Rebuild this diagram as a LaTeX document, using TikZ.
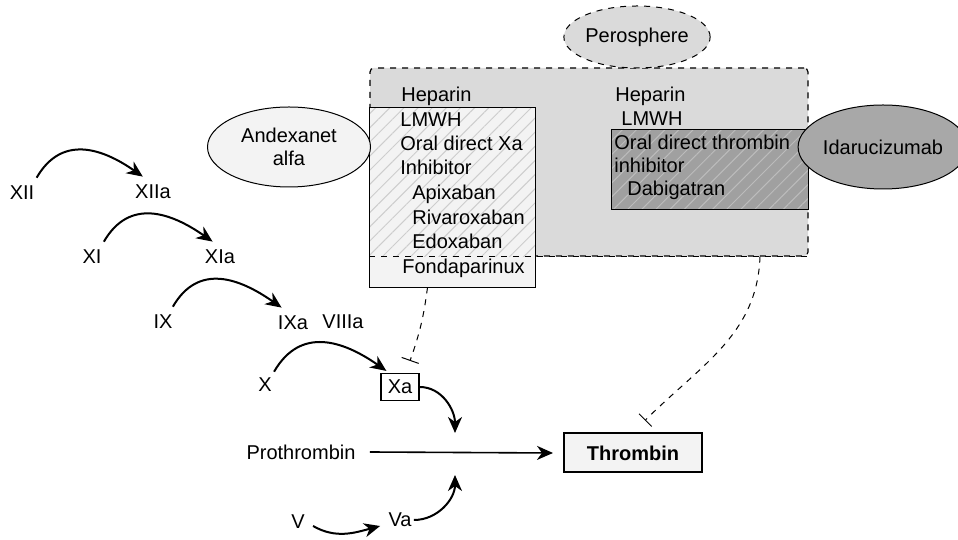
\documentclass[tikz,border=0pt]{standalone}
\usepackage{fontspec}
\setmainfont{Liberation Sans}
\usetikzlibrary{shapes.geometric,arrows.meta,patterns.meta}

\definecolor{boxgrey}{RGB}{218,218,218}
\definecolor{paleGrey}{RGB}{243,243,243}
\definecolor{hatchLight}{RGB}{205,205,205}
\definecolor{darkGrey}{RGB}{160,160,160}
\definecolor{hatchDark}{RGB}{188,188,188}
\definecolor{ellGrey}{RGB}{168,168,168}

\begin{document}
\begin{tikzpicture}[x=0.5pt,y=0.5pt,
  font=\fontsize{10}{11.5}\selectfont,
  lbl/.style={inner sep=1pt},
  txt/.style={anchor=base west,inner sep=0pt},
  act/.style={-{Stealth[length=8pt,width=7pt,inset=2.5pt]},line width=1pt},
  inh/.style={dashed,-{Bar[width=9pt]},line width=0.5pt},
  drug/.style={ellipse,draw,line width=0.5pt,inner sep=0pt}]

\useasboundingbox (0,0) rectangle (958,540);

% grey area and the two drug boxes
\node (grey) [draw,dashed,rounded corners=2pt,fill=boxgrey,line width=0.6pt,
  minimum width=219pt,minimum height=94pt,inner sep=0pt] at (589,378) {};
\node (lbox) [fill=paleGrey,minimum width=82.5pt,minimum height=89.5pt,inner sep=0pt] at (452.5,342.5) {};
\fill[pattern={Lines[angle=45,distance=5pt,line width=0.5pt]},pattern color=hatchLight]
  (lbox.north west) rectangle (lbox.east |- grey.south);
\draw[line width=0.7pt] (lbox.south west) rectangle (lbox.north east);
\draw[dashed,line width=0.6pt] (grey.south west) -- (grey.south east);
\node (rbox) [fill=darkGrey,
  postaction={pattern={Lines[angle=45,distance=5pt,line width=0.5pt]},pattern color=hatchDark},
  minimum width=98pt,minimum height=39.5pt,inner sep=0pt] at (710,370.5) {};
\draw[line width=0.7pt] (rbox.south west) rectangle (rbox.north east);

\node (pero) [drug,dashed,fill=boxgrey,minimum width=62.5pt,minimum height=31pt] at (637,503) {Perosphere};
\node (andex) [drug,fill=paleGrey,minimum width=81.5pt,minimum height=40pt,align=center] at (289,393) {Andexanet\\alfa};
\node (idaru) [drug,fill=ellGrey,minimum width=76pt,minimum height=42pt] at (883,393) {Idarucizumab};

% Xa inhibitors
\node (hepA) [txt] at (401,438) {Heparin};
\node (lmwhA) [txt] at (400,413) {LMWH};
\node (oralXa) [txt] at (400,389) {Oral direct Xa};
\node (inhXa) [txt] at (400,365) {Inhibitor};
\node (apix) [txt] at (412,340) {Apixaban};
\node (rivar) [txt] at (412,315) {Rivaroxaban};
\node (edox) [txt] at (412,291) {Edoxaban};
\node (fonda) [txt] at (402,266) {Fondaparinux};

% thrombin inhibitors
\node (hepB) [txt] at (615,438) {Heparin};
\node (lmwhB) [txt] at (621,414) {LMWH};
\node (oralIIa) [txt] at (614,390) {Oral direct thrombin};
\node (inhIIa) [txt] at (614,367) {inhibitor};
\node (dabi) [txt] at (627,344) {Dabigatran};

% cascade
\node (XII) [lbl] at (22,347) {XII};
\node (XIIa) [lbl] at (153,348) {XIIa};
\node (XI) [lbl] at (92,283) {XI};
\node (XIa) [lbl] at (220,283) {XIa};
\node (IX) [lbl] at (163,218) {IX};
\node (IXa) [lbl] at (293,217) {IXa};
\node (VIIIa) [lbl] at (343,218) {VIIIa};
\node (X) [lbl] at (265,155) {X};
\node (Xa) [draw,line width=0.6pt,inner sep=2pt,minimum width=19pt,minimum height=13.5pt] at (400,153) {Xa};
\node (proth) [lbl] at (301,88) {Prothrombin};
\node (thr) [draw,line width=1pt,fill=paleGrey,minimum width=69pt,minimum height=19.5pt,font=\fontsize{10}{11.5}\selectfont\bfseries] at (633,87) {Thrombin};
\node (V) [lbl] at (298,18) {V};
\node (Va) [lbl] at (400,20) {Va};

\coordinate (joinTop) at (455,107);
\coordinate (joinBot) at (455,65);

\draw [act] ([yshift=3pt]XII.north east) to[out=60,in=145,looseness=1.2] ([xshift=5pt,yshift=3pt]XIIa.north west);
\draw [act] ([yshift=3pt]XI.north east) to[out=60,in=145,looseness=1.2] ([xshift=5pt,yshift=3pt]XIa.north west);
\draw [act] ([xshift=-1pt,yshift=3pt]IX.north east) to[out=60,in=145,looseness=1.2] ([xshift=3pt,yshift=3pt]IXa.north west);
\draw [act] ([yshift=2pt]X.north east) to[out=60,in=145,looseness=1.2] ([xshift=3pt,yshift=1pt]Xa.north west);
\draw [act] (Xa.east) to[out=0,in=90] (joinTop);
\draw [act] (Va.east) to[out=0,in=-90] (joinBot);
\draw [act] ([xshift=3pt,yshift=-2pt]V.east) to[out=-30,in=195] ([xshift=-3pt,yshift=-3pt]Va.west);
\draw [-{Stealth[length=8pt,width=7pt,inset=2.5pt]},line width=0.8pt] ([xshift=6pt]proth.east) -- ([xshift=-5pt]thr.west);

\draw [inh] ([xshift=-12.5pt]lbox.south) to[bend left=6] ([xshift=5pt,yshift=6pt]Xa.north);
\draw [inh] ([xshift=85.5pt]grey.south) to[out=-92,in=45] ([xshift=6pt,yshift=6pt]thr.north);

\end{tikzpicture}
\end{document}
